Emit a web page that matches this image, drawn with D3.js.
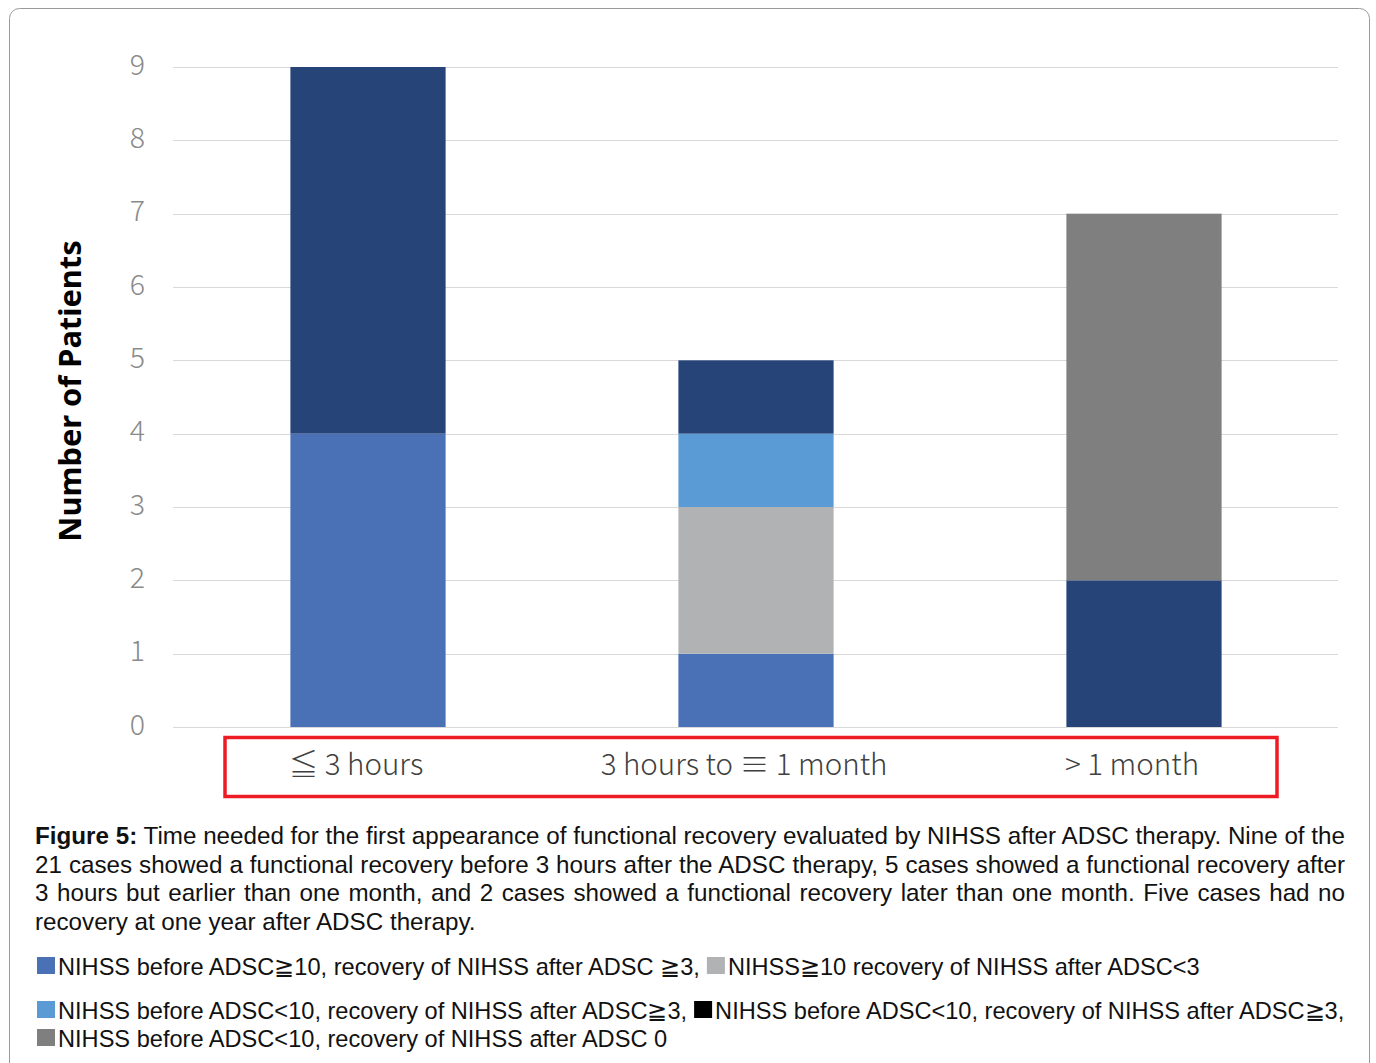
<!DOCTYPE html>
<html>
<head>
<meta charset="utf-8">
<script src="https://cdn.jsdelivr.net/npm/d3@7"></script>
<style>
  html, body { margin: 0; padding: 0; background: #fff; }
  #wrap { position: relative; width: 1376px; height: 1063px; overflow: hidden; }
  svg { position: absolute; left: 0; top: 0; }
  #caption {
    position: absolute; left: 35px; top: 822px; width: 1310px;
    font-family: "Liberation Sans", Arial, sans-serif; font-size: 24.2px;
    line-height: 28.5px; color: #111; text-align: justify;
  }
  #caption b { font-weight: 700; }
</style>
</head>
<body>
<div id="wrap">
  <svg id="chart" width="1376" height="1063"></svg>
  <div id="caption"><b>Figure 5:</b> Time needed for the first appearance of functional recovery evaluated by NIHSS after ADSC therapy. Nine of the 21 cases showed a functional recovery before 3 hours after the ADSC therapy, 5 cases showed a functional recovery after 3 hours but earlier than one month, and 2 cases showed a functional recovery later than one month. Five cases had no recovery at one year after ADSC therapy.</div>
</div>
<script>
// Time windows in which functional recovery first appeared
const categories = ["≦ 3 hours", "3 hours to ≡ 1 month", "> 1 month"];

// Patient counts per group, in stacking order (bottom to top)
const seriesKeys = ["hiRec", "hiNoRec", "loRec", "loRecB", "loNone"];
const hiRec   = [4, 1, 0]; // NIHSS before ADSC ≥10, recovery ≥3
const hiNoRec = [0, 2, 0]; // NIHSS ≥10, recovery <3
const loRec   = [0, 1, 0]; // NIHSS before ADSC <10, recovery ≥3
const loRecB  = [5, 1, 2]; // NIHSS before ADSC <10, recovery ≥3 (dark)
const loNone  = [0, 0, 5]; // NIHSS before ADSC <10, recovery 0
const seriesColors = ["#4A71B5", "#B1B2B4", "#5B9BD5", "#264478", "#7F7F7F"];

const yTicks = [0, 1, 2, 3, 4, 5, 6, 7, 8, 9];

const legendRows = [
  [{ color: "#4A71B5", text: "NIHSS before ADSC≧10, recovery of NIHSS after ADSC ≧3," },
   { color: "#B1B2B4", text: "NIHSS≧10 recovery of NIHSS after ADSC<3" }],
  [{ color: "#5B9BD5", text: "NIHSS before ADSC<10, recovery of NIHSS after ADSC≧3," },
   { color: "#000000", text: "NIHSS before ADSC<10, recovery of NIHSS after ADSC≧3," }],
  [{ color: "#7F7F7F", text: "NIHSS before ADSC<10, recovery of NIHSS after ADSC 0" }]
];

const valuesByKey = { hiRec, hiNoRec, loRec, loRecB, loNone };
const table = categories.map((c, i) => {
  const row = { category: c };
  seriesKeys.forEach(k => row[k] = valuesByKey[k][i]);
  return row;
});

const svg = d3.select("#chart");

// Outer frame
svg.append("rect")
  .attr("x", 9.5).attr("y", 8.5)
  .attr("width", 1360).attr("height", 1080)
  .attr("rx", 10).attr("ry", 10)
  .attr("fill", "none").attr("stroke", "#9a9a9a").attr("stroke-width", 1);

const plot = { left: 174, right: 1338, top: 67, bottom: 727 };

const x = d3.scaleBand()
  .domain(categories)
  .range([plot.left, plot.right])
  .paddingInner(0.6)
  .paddingOuter(0.3);

const y = d3.scaleLinear()
  .domain([0, 9])
  .range([plot.bottom, plot.top]);

// Horizontal gridlines
svg.append("g")
  .selectAll("line")
  .data(yTicks)
  .join("line")
  .attr("x1", plot.left - 1).attr("x2", plot.right)
  .attr("y1", d => Math.round(y(d)) + 0.5)
  .attr("y2", d => Math.round(y(d)) + 0.5)
  .attr("stroke", "#d9d9d9").attr("stroke-width", 1);

// Y tick labels
const yAxis = d3.axisLeft(y).tickValues(yTicks).tickSize(0).tickPadding(0);
const yg = svg.append("g")
  .attr("transform", `translate(${plot.left - 29},-2)`)
  .call(yAxis);
yg.select(".domain").remove();
yg.selectAll("text")
  .attr("font-family", "'Noto Sans CJK JP', 'Noto Sans', sans-serif")
  .attr("font-weight", 300)
  .attr("font-size", 28.5)
  .attr("fill", "#8a8a8a");

// Stacked bars
const stacked = d3.stack().keys(seriesKeys)(table);
svg.append("g")
  .selectAll("g")
  .data(stacked)
  .join("g")
  .attr("fill", (d, i) => seriesColors[i])
  .selectAll("rect")
  .data(d => d.filter(s => s[1] - s[0] > 0))
  .join("rect")
  .attr("x", d => x(d.data.category))
  .attr("width", x.bandwidth())
  .attr("y", d => y(d[1]))
  .attr("height", d => y(d[0]) - y(d[1]));

// Y axis title
svg.append("text")
  .attr("transform", `translate(81,${(plot.top + plot.bottom) / 2 - 6}) rotate(-90)`)
  .attr("text-anchor", "middle")
  .attr("font-family", "'Noto Sans', 'Open Sans', sans-serif")
  .attr("font-weight", 700)
  .attr("font-size", 30.8)
  .attr("fill", "#000")
  .text("Number of Patients");

// Category labels
const xAxis = d3.axisBottom(x).tickSize(0).tickPadding(0);
const xg = svg.append("g")
  .attr("transform", `translate(-12,${plot.bottom})`)
  .call(xAxis);
xg.select(".domain").remove();
xg.selectAll("text")
  .attr("dy", null)
  .attr("y", 48)
  .attr("font-family", "'Noto Sans CJK JP', 'Noto Sans', sans-serif")
  .attr("font-weight", 300)
  .attr("font-size", 29.5)
  .attr("fill", "#404040");

// Red box around category labels
svg.append("rect")
  .attr("x", 225).attr("y", 737.5)
  .attr("width", 1052).attr("height", 59)
  .attr("fill", "none").attr("stroke", "#ED1C24").attr("stroke-width", 3.5);

// Legend
const legendBaselines = [975, 1019, 1047];
const lg = svg.append("g")
  .attr("font-family", "'Liberation Sans', Arial, sans-serif")
  .attr("font-size", 23.6)
  .attr("fill", "#111");
legendRows.forEach((row, r) => {
  let cx = 37;
  row.forEach(item => {
    lg.append("rect")
      .attr("x", cx).attr("y", legendBaselines[r] - 18)
      .attr("width", 18).attr("height", 17)
      .attr("fill", item.color);
    const t = lg.append("text")
      .attr("x", cx + 21).attr("y", legendBaselines[r])
      .text(item.text);
    cx = cx + 21 + t.node().getComputedTextLength() + 7;
  });
});
</script>
</body>
</html>
